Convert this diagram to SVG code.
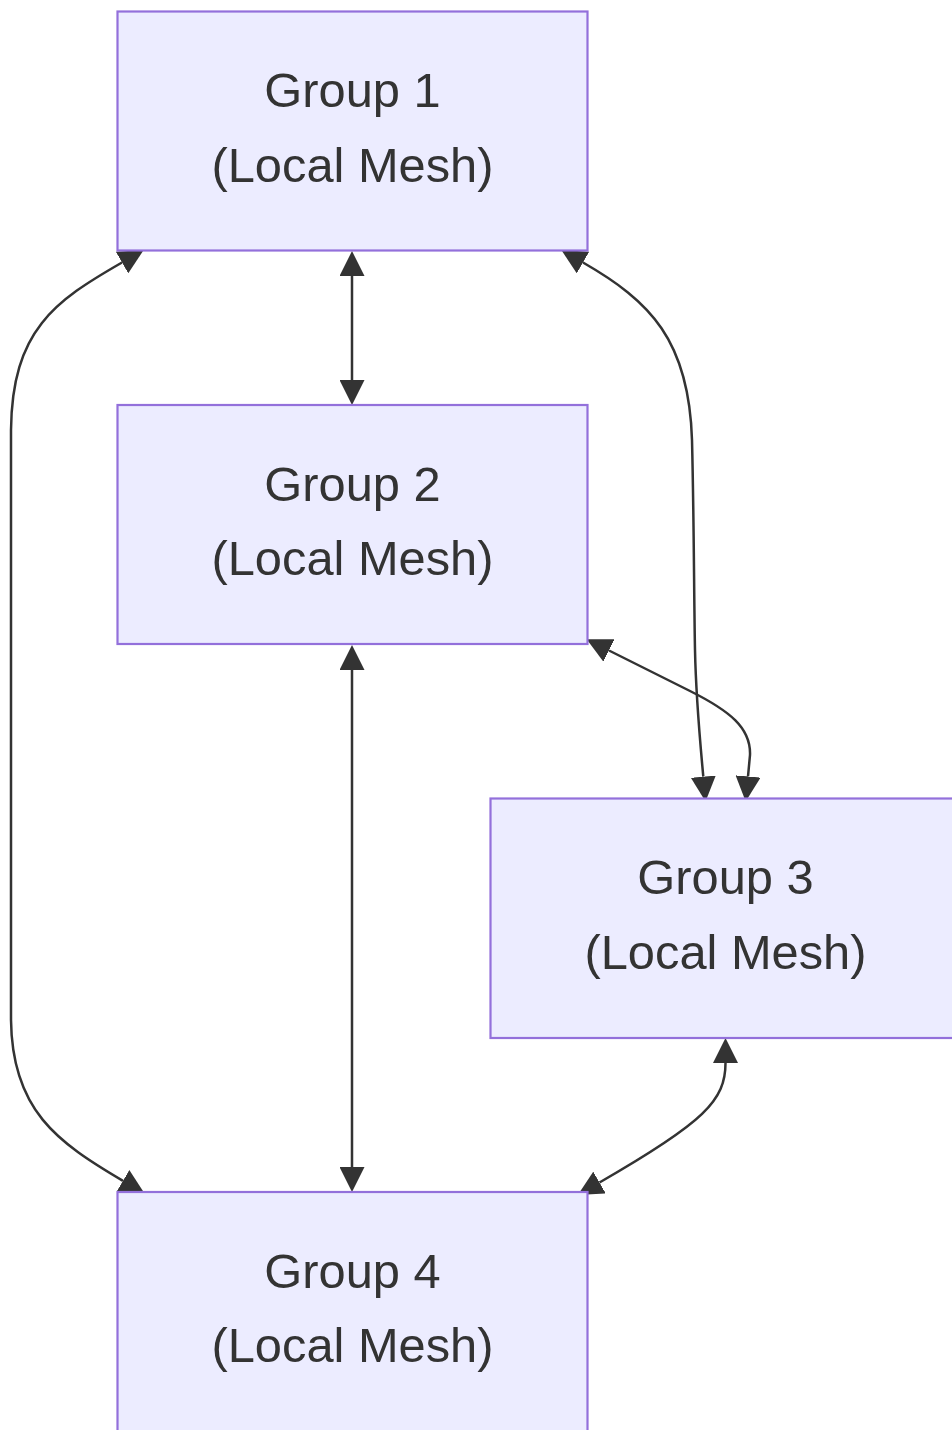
<svg xmlns="http://www.w3.org/2000/svg" width="952" height="1430" viewBox="0 0 952 1430">
<style>
.node rect{fill:#ECECFF;stroke:#9370DB;stroke-width:2.2}
.node text{font-family:"Liberation Sans",Arial,sans-serif;font-size:48.8px;fill:#333333;text-anchor:middle}
.edge{fill:none;stroke:#333333;stroke-width:2.5;marker-start:url(#arrow);marker-end:url(#arrow)}
</style>
<defs>
<marker id="arrow" viewBox="0 0 25 25" refX="0" refY="12.5" markerWidth="25" markerHeight="25" markerUnits="userSpaceOnUse" orient="auto-start-reverse">
<path d="M0,0 L25,12.5 L0,25 z" fill="#333333"/>
</marker>
</defs>
<rect width="952" height="1430" fill="#ffffff"/>
<g id="edges">
<path class="edge" d="M352,276 L352,380"/>
<path class="edge" d="M352,670 L352,1167"/>
<path class="edge" d="M122,262.5 C55,301 12,330 11,430 L11,1020 C12,1110 57,1142 123,1180.8"/>
<path class="edge" d="M583,262.5 C650,301 689,340 692,440 C694,520 694,600 695,650 C696,700 700,740 703.3,776.7"/>
<path class="edge" d="M609,650.5 L690,691 C730,711 751,728 750,755 L748,776.5"/>
<path class="edge" d="M725.5,1063 C725.5,1100 705,1122 599.5,1182.5"/>
</g>
<g id="group1" class="node">
<rect x="117.5" y="11.5" width="470" height="239"/>
<text x="352.5" y="107">Group 1</text>
<text x="352.5" y="181.5">(Local Mesh)</text>
</g>
<g id="group2" class="node">
<rect x="117.5" y="405" width="470" height="239"/>
<text x="352.5" y="500.5">Group 2</text>
<text x="352.5" y="575">(Local Mesh)</text>
</g>
<g id="group3" class="node">
<rect x="490.5" y="798.5" width="470" height="239.5"/>
<text x="725.5" y="894">Group 3</text>
<text x="725.5" y="968.5">(Local Mesh)</text>
</g>
<g id="group4" class="node">
<rect x="117.5" y="1192" width="470" height="260"/>
<text x="352.5" y="1287.5">Group 4</text>
<text x="352.5" y="1362">(Local Mesh)</text>
</g>
</svg>
